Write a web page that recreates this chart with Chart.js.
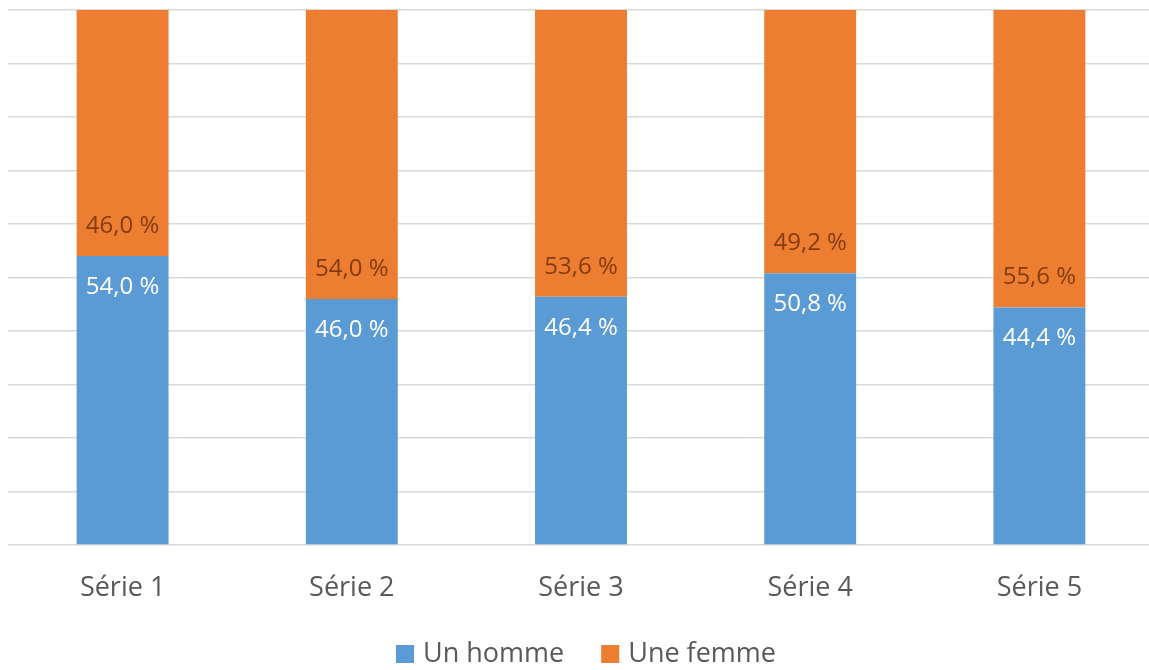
<!DOCTYPE html>
<html>
<head>
<meta charset="utf-8">
<script src="https://cdn.jsdelivr.net/npm/chart.js@4.4.1/dist/chart.umd.min.js"></script>
<style>
html,body{margin:0;padding:0;background:#fff;overflow:hidden;}
#wrap{width:1149px;height:670px;overflow:hidden;}
</style>
</head>
<body>
<div id="wrap"><canvas id="c" width="1154" height="670"></canvas></div>
<script>
const categories = ["Série 1", "Série 2", "Série 3", "Série 4", "Série 5"];
const seriesNames = ["Un homme", "Une femme"];
const homme = [54.0, 46.0, 46.4, 50.8, 44.4];
const femme = [46.0, 54.0, 53.6, 49.2, 55.6];
const yTicks = [0, 10, 20, 30, 40, 50, 60, 70, 80, 90, 100];

const BLUE = "#5b9bd5", ORANGE = "#ed7d31";
const FONT = "'Open Sans', 'Noto Sans', sans-serif";

function fmt(v){ return v.toFixed(1).replace('.', ',') + ' %'; }

const labelPlugin = {
  id: 'segLabels',
  afterDatasetsDraw(chart){
    const ctx = chart.ctx;
    ctx.save();
    ctx.font = "24px " + FONT;
    ctx.textAlign = 'center';
    ctx.textBaseline = 'middle';
    chart.data.datasets.forEach((ds, di) => {
      const meta = chart.getDatasetMeta(di);
      meta.data.forEach((bar, i) => {
        const top = Math.min(bar.y, bar.base), bottom = Math.max(bar.y, bar.base);
        if (di === 0) {
          ctx.fillStyle = '#ffffff';
          ctx.fillText(fmt(ds.data[i]), bar.x, top + 31);
        } else {
          ctx.fillStyle = '#843c0c';
          ctx.fillText(fmt(ds.data[i]), bar.x, bottom - 30);
        }
      });
    });
    ctx.restore();
  }
};

const legendPlugin = {
  id: 'customLegend',
  afterDraw(chart){
    const ctx = chart.ctx;
    ctx.save();
    ctx.font = "27px " + FONT;
    const box = 18, gapText = 9, gapItem = 37;
    const items = chart.data.datasets.map(d => ({text: d.label, color: d.backgroundColor, w: ctx.measureText(d.label).width}));
    let total = 0;
    items.forEach((it, k) => { total += box + gapText + it.w + (k < items.length - 1 ? gapItem : 0); });
    let x = 586 - total / 2;
    const cy = 654;
    ctx.textBaseline = 'middle';
    ctx.textAlign = 'left';
    items.forEach(it => {
      ctx.fillStyle = it.color;
      ctx.fillRect(x, cy - box / 2, box, box);
      x += box + gapText;
      ctx.fillStyle = '#595959';
      ctx.fillText(it.text, x, cy);
      x += it.w + gapItem;
    });
    ctx.restore();
  }
};

new Chart(document.getElementById('c'), {
  type: 'bar',
  data: {
    labels: categories,
    datasets: [
      { label: seriesNames[0], data: homme, backgroundColor: BLUE, categoryPercentage: 0.401, barPercentage: 1 },
      { label: seriesNames[1], data: femme, backgroundColor: ORANGE, categoryPercentage: 0.401, barPercentage: 1 }
    ]
  },
  options: {
    responsive: false,
    animation: false,
    layout: { padding: { top: 10, left: 0, right: 0, bottom: 0 } },
    plugins: { legend: { display: false }, tooltip: { enabled: false } },
    scales: {
      x: {
        stacked: true,
        grid: { display: false },
        border: { display: false },
        ticks: { color: '#595959', font: { size: 27, family: FONT }, padding: 19 },
        afterFit(s){ s.height = 125; }
      },
      y: {
        stacked: true,
        min: 0, max: 100,
        afterBuildTicks(s){ s.ticks = yTicks.map(v => ({value: v})); },
        ticks: { display: false },
        grid: { color: '#d9d9d9', lineWidth: 1.5, drawTicks: false },
        border: { display: false },
        afterFit(s){ s.width = 8; }
      }
    }
  },
  plugins: [labelPlugin, legendPlugin]
});
</script>
</body>
</html>
